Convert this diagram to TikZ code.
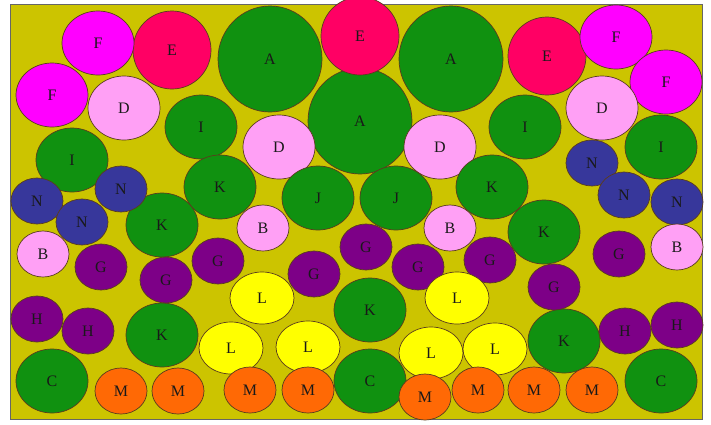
\documentclass[tikz,border=0pt]{standalone}
\usepackage{fontspec}
\setmainfont{Liberation Serif}
\usetikzlibrary{shapes.geometric}
\definecolor{bgyel}{RGB}{204,196,0}
\definecolor{cA}{RGB}{16,145,16}
\definecolor{cE}{RGB}{255,0,100}
\definecolor{cF}{RGB}{255,0,255}
\definecolor{cD}{RGB}{255,160,245}
\definecolor{cN}{RGB}{55,55,155}
\definecolor{cG}{RGB}{125,0,135}
\definecolor{cL}{RGB}{255,255,0}
\definecolor{cM}{RGB}{255,105,5}
\definecolor{edgec}{RGB}{90,60,30}
\begin{document}
\begin{tikzpicture}[x=1pt,y=-1pt,
  ball/.style={ellipse,draw=edgec,line width=0.7pt,inner sep=0pt,
    font=\fontsize{16}{16}\selectfont,text=black!90},
  big/.style={ball,minimum width=104pt,minimum height=106pt},
  ebig/.style={ball,minimum width=78pt,minimum height=78pt},
  mid/.style={ball,minimum width=72pt,minimum height=64pt},
  lmid/.style={ball,minimum width=64pt,minimum height=52pt},
  sml/.style={ball,minimum width=52pt,minimum height=46pt}]
\useasboundingbox (0,0) rectangle (711,424);
\fill[white] (0,0) rectangle (711,424);
\node[draw=black!60,fill=bgyel,line width=0.8pt,minimum width=692pt,minimum height=415pt,inner sep=0pt,anchor=north west] (frame) at (10,4) {};
\begin{scope}
\clip (0,0) rectangle (711,424);
% big A
\foreach \n/\x/\y in {A1/270/59,A2/360/121,A3/451/59}
  \node[big,fill=cA] (\n) at (\x,\y) {A};
% E
\foreach \n/\x/\y in {E1/172/50,E2/360/36,E3/547/56}
  \node[ebig,fill=cE] (\n) at (\x,\y) {E};
% F
\foreach \n/\x/\y in {F1/98/43,F2/52/95,F3/616/37,F4/666/82}
  \node[mid,fill=cF] (\n) at (\x,\y) {F};
% D
\foreach \n/\x/\y in {D1/124/108,D2/279/147,D3/440/147,D4/602/108}
  \node[mid,fill=cD] (\n) at (\x,\y) {D};
% I
\foreach \n/\x/\y in {I1/72/160,I2/201/127,I3/525/127,I4/661/147}
  \node[mid,fill=cA] (\n) at (\x,\y) {I};
% K
\foreach \n/\x/\y in {K1/220/187,K2/162/225,K3/162/335,K4/370/310,K5/492/187,K6/544/232,K7/564/341}
  \node[mid,fill=cA] (\n) at (\x,\y) {K};
% J
\foreach \n/\x/\y in {J1/318/198,J2/396/198}
  \node[mid,fill=cA] (\n) at (\x,\y) {J};
% C
\foreach \n/\x/\y in {C1/52/381,C2/370/381,C3/661/381}
  \node[mid,fill=cA] (\n) at (\x,\y) {C};
% N
\foreach \n/\x/\y in {N1/37/201,N2/82/222,N3/121/189,N4/592/163,N5/624/195,N6/677/202}
  \node[sml,fill=cN] (\n) at (\x,\y) {N};
% B
\foreach \n/\x/\y in {B1/43/254,B2/263/228,B3/450/228,B4/677/247}
  \node[sml,fill=cD] (\n) at (\x,\y) {B};
% G
\foreach \n/\x/\y in {G1/101/267,G2/166/280,G3/218/261,G4/314/274,G5/366/247,G6/418/267,G7/490/260,G8/554/287,G9/619/254}
  \node[sml,fill=cG] (\n) at (\x,\y) {G};
% H
\foreach \n/\x/\y in {H1/37/319,H2/88/331,H3/625/331,H4/677/325}
  \node[sml,fill=cG] (\n) at (\x,\y) {H};
% L
\foreach \n/\x/\y in {L1/231/348,L2/262/298,L3/308/347,L4/457/298,L5/431/353,L6/495/349}
  \node[lmid,fill=cL] (\n) at (\x,\y) {L};
% M
\foreach \n/\x/\y in {M1/121/391,M2/178/391,M3/250/390,M4/308/390,M5/425/397,M6/478/390,M7/534/390,M8/592/390}
  \node[sml,fill=cM] (\n) at (\x,\y) {M};
\end{scope}
\end{tikzpicture}
\end{document}
